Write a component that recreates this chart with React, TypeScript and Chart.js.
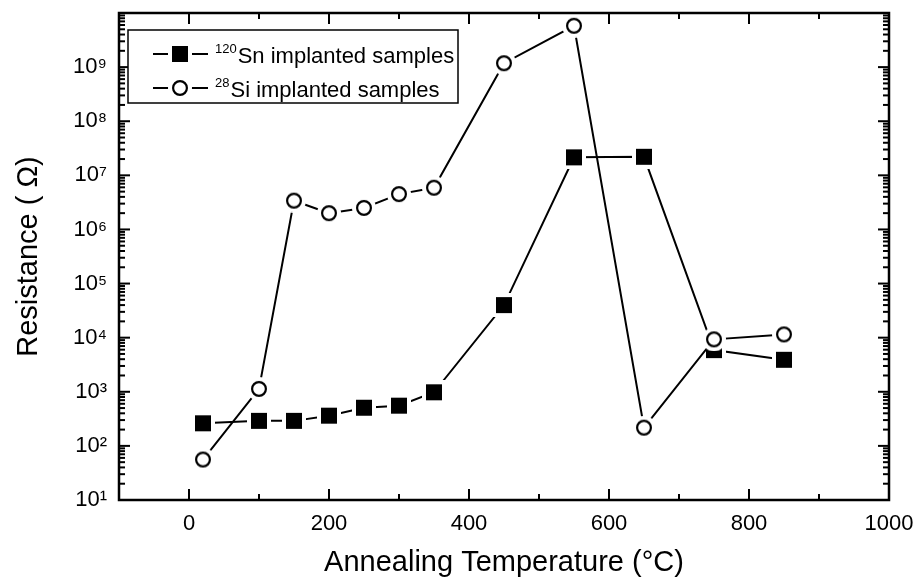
import React, { useEffect, useRef } from "react";
import { Chart, registerables } from "chart.js";

Chart.register(...registerables);

// ---- data ----
const TEMPERATURES = [20, 100, 150, 200, 250, 300, 350, 450, 550, 650, 750, 850];
const SN_RESISTANCE = [262, 290, 290, 362, 508, 554, 980, 40000, 2.15e7, 2.2e7, 5900, 3900];
const SI_RESISTANCE = [56, 1130, 3.4e6, 2.0e6, 2.5e6, 4.5e6, 5.9e6, 1.18e9, 5.8e9, 217, 9300, 11500];

// ---- axes ----
const X_MIN = -100;
const X_MAX = 1000;
const X_TICKS = [0, 200, 400, 600, 800, 1000];
const X_MINOR_TICKS = [100, 300, 500, 700, 900];
const Y_MIN = 1e1;
const Y_MAX = 1e10;
const Y_TICKS = [1e1, 1e2, 1e3, 1e4, 1e5, 1e6, 1e7, 1e8, 1e9];
const Y_MINOR_FACTORS = [2, 3, 4, 5, 6, 7, 8, 9];

// ---- text ----
const X_TITLE = "Annealing Temperature (°C)";
const Y_TITLE = "Resistance ( Ω)";
const LEGEND_ISOTOPES = ["120", "28"];
const LEGEND_LABELS = ["Sn implanted samples", "Si implanted samples"];

const FONT = "'Liberation Sans', Arial, Helvetica, sans-serif";
const SUP = "⁰¹²³⁴⁵⁶⁷⁸⁹";

function toSup(n: number) {
  return String(n)
    .split("")
    .map((d) => SUP[+d])
    .join("");
}

function makeSquare(size: number, gap: number) {
  const s = size + gap * 2;
  const c = document.createElement("canvas");
  c.width = s;
  c.height = s;
  const g = c.getContext("2d")!;
  g.fillStyle = "#fff";
  g.fillRect(0, 0, s, s);
  g.fillStyle = "#000";
  g.fillRect(gap, gap, size, size);
  return c;
}

function makeCircle(d: number, gap: number, lw: number) {
  const s = d + gap * 2;
  const c = document.createElement("canvas");
  c.width = s;
  c.height = s;
  const g = c.getContext("2d")!;
  g.fillStyle = "#fff";
  g.beginPath();
  g.arc(s / 2, s / 2, s / 2, 0, Math.PI * 2);
  g.fill();
  g.beginPath();
  g.arc(s / 2, s / 2, d / 2 - lw / 2, 0, Math.PI * 2);
  g.fillStyle = "#fff";
  g.fill();
  g.lineWidth = lw;
  g.strokeStyle = "#000";
  g.stroke();
  return c;
}

export default function App() {
  const ref = useRef<HTMLCanvasElement | null>(null);

  useEffect(() => {
    if (!ref.current) return;
    const squareImg = makeSquare(16, 4);
    const circleImg = makeCircle(16, 4, 2.2);
    const markers = [squareImg, circleImg];

    const frameTicks = {
      id: "frameTicks",
      afterDatasetsDraw(chart: any) {
        const { ctx, chartArea, scales } = chart;
        const { left, right, top, bottom } = chartArea;
        const x = scales.x;
        const y = scales.y;
        const MAJOR = 11;
        const MINOR = 6;
        ctx.save();
        ctx.strokeStyle = "#000";
        ctx.lineWidth = 2;
        ctx.lineCap = "butt";
        const seg = (x1: number, y1: number, x2: number, y2: number) => {
          ctx.beginPath();
          ctx.moveTo(x1, y1);
          ctx.lineTo(x2, y2);
          ctx.stroke();
        };
        for (const v of X_TICKS) {
          const px = x.getPixelForValue(v);
          seg(px, bottom, px, bottom - MAJOR);
          seg(px, top, px, top + MAJOR);
        }
        for (const v of X_MINOR_TICKS) {
          const px = x.getPixelForValue(v);
          seg(px, bottom, px, bottom - MINOR);
          seg(px, top, px, top + MINOR);
        }
        for (const v of Y_TICKS) {
          const py = y.getPixelForValue(v);
          seg(left, py, left + MAJOR, py);
          seg(right, py, right - MAJOR, py);
          for (const f of Y_MINOR_FACTORS) {
            const pm = y.getPixelForValue(v * f);
            seg(left, pm, left + MINOR, pm);
            seg(right, pm, right - MINOR, pm);
          }
        }
        ctx.lineWidth = 2.5;
        ctx.strokeRect(left, top, right - left, bottom - top);
        ctx.restore();
      },
    };

    const legendBox = {
      id: "legendBox",
      afterDraw(chart: any) {
        const { ctx } = chart;
        const bx = 128;
        const by = 30;
        const bw = 330;
        const bh = 73;
        ctx.save();
        ctx.fillStyle = "#fff";
        ctx.fillRect(bx, by, bw, bh);
        ctx.strokeStyle = "#000";
        ctx.lineWidth = 1.5;
        ctx.strokeRect(bx, by, bw, bh);
        const rows = [54, 88];
        rows.forEach((cy, i) => {
          ctx.lineWidth = 2;
          ctx.beginPath();
          ctx.moveTo(153, cy);
          ctx.lineTo(208, cy);
          ctx.stroke();
          const m = markers[i];
          ctx.drawImage(m, 180 - m.width / 2, cy - m.height / 2);
          ctx.fillStyle = "#000";
          ctx.textBaseline = "alphabetic";
          ctx.textAlign = "left";
          ctx.font = `13px ${FONT}`;
          const sx = 215;
          ctx.fillText(LEGEND_ISOTOPES[i], sx, cy - 1);
          const sw = ctx.measureText(LEGEND_ISOTOPES[i]).width;
          ctx.font = `22px ${FONT}`;
          ctx.fillText(LEGEND_LABELS[i], sx + sw + 1, cy + 9);
        });
        ctx.restore();
      },
    };

    const chart = new Chart(ref.current, {
      type: "line",
      data: {
        datasets: [
          {
            label: "120Sn implanted samples",
            data: TEMPERATURES.map((t, i) => ({ x: t, y: SN_RESISTANCE[i] })),
            borderColor: "#000",
            backgroundColor: "#000",
            borderWidth: 2,
            pointStyle: squareImg as any,
            pointRadius: 8,
            order: 2,
          },
          {
            label: "28Si implanted samples",
            data: TEMPERATURES.map((t, i) => ({ x: t, y: SI_RESISTANCE[i] })),
            borderColor: "#000",
            backgroundColor: "#fff",
            borderWidth: 2,
            pointStyle: circleImg as any,
            pointRadius: 8,
            order: 1,
          },
        ],
      },
      options: {
        animation: false,
        responsive: false,
        devicePixelRatio: 1,
        layout: { padding: { left: 0, right: 30, top: 13, bottom: 0 } },
        plugins: {
          legend: { display: false },
          tooltip: { enabled: false },
        },
        scales: {
          x: {
            type: "linear",
            min: X_MIN,
            max: X_MAX,
            grid: { display: false, drawTicks: false },
            border: { display: false },
            afterBuildTicks: (s: any) => {
              s.ticks = X_TICKS.map((v) => ({ value: v }));
            },
            afterFit: (s: any) => {
              s.height = 81;
              s.paddingLeft = 0;
              s.paddingRight = 0;
            },
            ticks: {
              color: "#000",
              font: { family: FONT, size: 22 },
              padding: 11,
              maxRotation: 0,
              autoSkip: false,
              callback: (v: any) => String(v),
            },
            title: {
              display: true,
              text: X_TITLE,
              color: "#000",
              font: { family: FONT, size: 29 },
              padding: { top: 0, bottom: 1 },
            },
          },
          y: {
            type: "logarithmic",
            min: Y_MIN,
            max: Y_MAX,
            grid: { display: false, drawTicks: false },
            border: { display: false },
            afterBuildTicks: (s: any) => {
              s.ticks = Y_TICKS.map((v) => ({ value: v }));
            },
            afterFit: (s: any) => {
              s.width = 119;
              s.paddingTop = 0;
              s.paddingBottom = 0;
            },
            ticks: {
              color: "#000",
              font: { family: FONT, size: 22 },
              padding: 12,
              autoSkip: false,
              callback: (v: any) => "10" + toSup(Math.round(Math.log10(v))),
            },
            title: {
              display: true,
              text: Y_TITLE,
              color: "#000",
              font: { family: FONT, size: 29 },
              padding: { top: 12, bottom: 0 },
            },
          },
        },
      },
      plugins: [frameTicks, legendBox],
    });
    return () => chart.destroy();
  }, []);

  return (
    <div style={{ position: "fixed", left: 0, top: 0, width: 919, height: 581, background: "#fff" }}>
      <canvas ref={ref} width={919} height={581} style={{ display: "block" }} />
    </div>
  );
}
